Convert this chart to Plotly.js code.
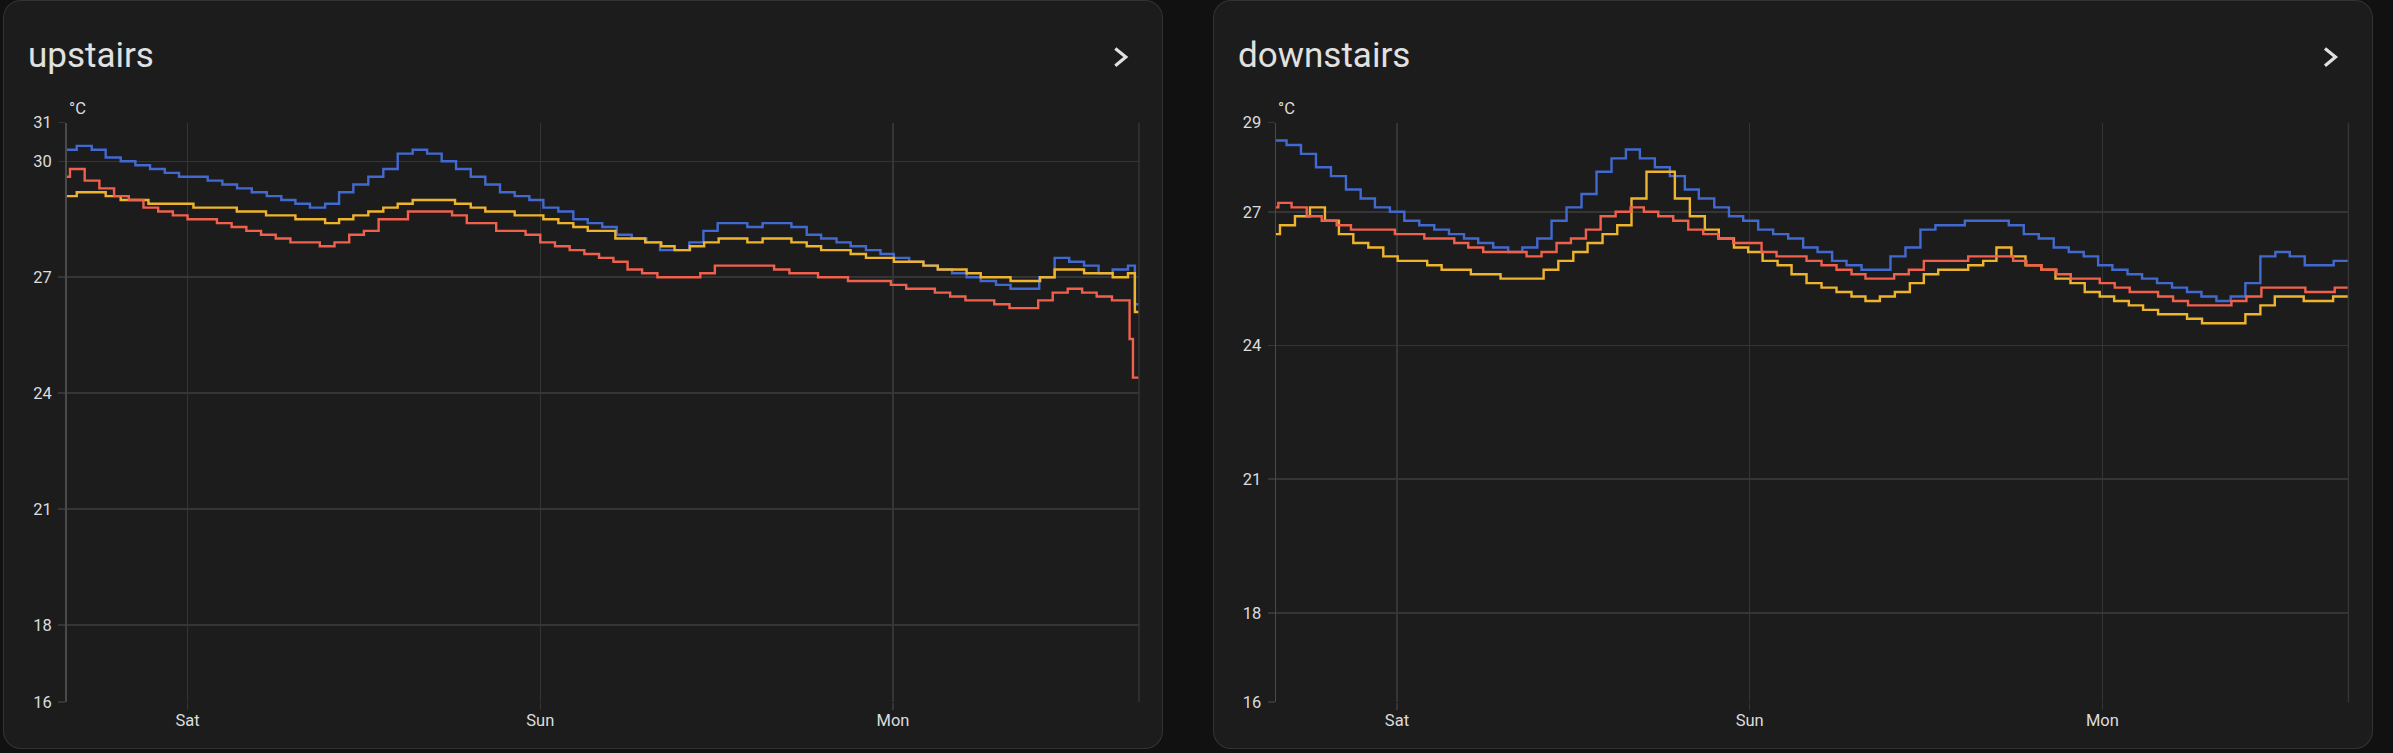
<!DOCTYPE html>
<html>
<head>
<meta charset="utf-8">
<script src="https://cdn.plot.ly/plotly-3.0.1.min.js"></script>
<style>
  html, body { margin: 0; padding: 0; background: #111111; width: 2393px; height: 753px; overflow: hidden; }
  .card { position: absolute; top: 0; width: 1160px; height: 749px; box-sizing: border-box;
          background: #1c1c1c; border: 1.5px solid rgba(225,225,225,0.12); border-radius: 18px; }
  #plot { position: absolute; left: 0; top: 0; width: 2393px; height: 753px; }
</style>
</head>
<body>
<div class="card" style="left:3px"></div>
<div class="card" style="left:1213px"></div>
<div id="plot"></div>
<script>
// ---------- data (hours relative to Saturday 00:00, value in °C) ----------
const titles = ['upstairs', 'downstairs'];
const unitLabel = '°C';
const dayTickHours = [0, 24, 48];
const dayTickText = ['Sat', 'Sun', 'Mon'];
const upTickVals = [16, 18, 21, 24, 27, 30, 31];
const dnTickVals = [16, 18, 21, 24, 27, 29];
const upRange = [16, 31];
const dnRange = [16, 29];
const timeRangeHours = [-8.23, 64.74];

const upBlue = [[-8.6,30.3],[-7.54,30.4],[-6.52,30.3],[-5.57,30.1],[-4.55,30.0],[-3.55,29.9],[-2.55,29.8],[-1.55,29.7],[-0.58,29.6],[1.37,29.5],[2.37,29.4],[3.37,29.3],[4.37,29.2],[5.39,29.1],[6.38,29.0],[7.34,28.9],[8.33,28.8],[9.36,28.9],[10.31,29.2],[11.28,29.4],[12.30,29.6],[13.32,29.8],[14.30,30.2],[15.32,30.3],[16.30,30.2],[17.29,30.0],[18.27,29.8],[19.27,29.6],[20.26,29.4],[21.26,29.2],[22.26,29.1],[23.26,29.0],[24.21,28.8],[25.23,28.7],[26.25,28.5],[27.23,28.4],[28.22,28.3],[29.20,28.1],[30.22,28.0],[31.22,27.9],[32.15,27.7],[34.14,27.9],[35.10,28.2],[36.07,28.4],[38.09,28.3],[39.13,28.4],[41.09,28.3],[42.13,28.1],[43.11,28.0],[44.16,27.9],[45.12,27.8],[46.16,27.7],[47.15,27.6],[48.06,27.5],[49.10,27.4],[50.07,27.3],[51.05,27.2],[52.02,27.1],[53.01,27.0],[53.97,26.9],[55.01,26.8],[56.00,26.7],[57.95,27.0],[59.00,27.5],[59.99,27.4],[61.00,27.3],[61.99,27.1],[62.95,27.2],[63.99,27.3],[64.46,26.3],[64.8,26.3]];
const upYellow = [[-8.6,29.1],[-7.54,29.2],[-5.57,29.1],[-4.55,29.0],[-2.66,28.9],[0.40,28.8],[3.35,28.7],[5.34,28.6],[7.34,28.5],[9.36,28.4],[10.31,28.5],[11.28,28.6],[12.30,28.7],[13.32,28.8],[14.30,28.9],[15.32,29.0],[18.20,28.9],[19.27,28.8],[20.26,28.7],[22.26,28.6],[24.21,28.5],[25.23,28.4],[26.25,28.3],[27.23,28.2],[29.11,28.0],[31.14,27.9],[32.23,27.8],[33.14,27.7],[34.18,27.8],[35.15,27.9],[36.14,28.0],[38.09,27.9],[39.13,28.0],[41.09,27.9],[42.13,27.8],[43.11,27.7],[45.12,27.6],[46.16,27.5],[48.06,27.4],[50.07,27.3],[51.05,27.2],[53.01,27.1],[53.97,27.0],[56.00,26.9],[58.01,27.0],[59.00,27.2],[61.00,27.1],[62.95,27.0],[63.99,27.1],[64.46,26.1],[64.8,26.1]];
const upRed = [[-9,29.6],[-8,29.8],[-7,29.5],[-6,29.3],[-5,29.1],[-4,29.0],[-3,28.8],[-2,28.7],[-1,28.6],[0,28.5],[2,28.4],[3,28.3],[4,28.2],[5,28.1],[6,28.0],[7,27.9],[9,27.8],[10,27.9],[11,28.1],[12,28.2],[13,28.5],[15,28.7],[18,28.6],[19,28.4],[21,28.2],[23,28.1],[24,27.9],[25,27.8],[26,27.7],[27,27.6],[28,27.5],[28.98,27.4],[29.94,27.2],[30.93,27.1],[31.97,27.0],[34.89,27.1],[35.88,27.3],[39.91,27.2],[40.95,27.1],[42.9,27.0],[44.94,26.9],[47.86,26.8],[48.9,26.7],[50.85,26.6],[51.89,26.5],[52.93,26.4],[54.89,26.3],[55.93,26.2],[57.88,26.4],[58.87,26.6],[59.89,26.7],[60.87,26.6],[61.86,26.5],[62.9,26.4],[64.1,25.4],[64.33,24.4],[64.8,24.4]];

const dnBlue = [[-8.6,28.6],[-7.51,28.5],[-6.53,28.3],[-5.51,28.0],[-4.49,27.8],[-3.47,27.5],[-2.47,27.3],[-1.50,27.1],[-0.48,27.0],[0.50,26.8],[1.52,26.7],[2.54,26.6],[3.54,26.5],[4.56,26.4],[5.53,26.3],[6.55,26.2],[7.57,26.1],[8.53,26.2],[9.55,26.4],[10.52,26.8],[11.54,27.1],[12.56,27.4],[13.58,27.9],[14.60,28.2],[15.58,28.4],[16.53,28.2],[17.55,28.0],[18.57,27.8],[19.59,27.5],[20.54,27.3],[21.59,27.1],[22.59,26.9],[23.56,26.8],[24.58,26.6],[25.60,26.5],[26.62,26.4],[27.64,26.2],[28.62,26.1],[29.61,25.9],[30.59,25.8],[31.61,25.7],[33.58,26.0],[34.60,26.2],[35.62,26.6],[36.64,26.7],[38.64,26.8],[41.63,26.7],[42.65,26.5],[43.67,26.4],[44.69,26.2],[45.71,26.1],[46.73,26.0],[47.71,25.8],[48.68,25.7],[49.71,25.6],[50.70,25.5],[51.72,25.4],[52.74,25.3],[53.76,25.2],[54.74,25.1],[55.76,25.0],[56.73,25.1],[57.73,25.4],[58.75,26.0],[59.77,26.1],[60.75,26.0],[61.77,25.8],[63.74,25.9],[64.8,25.9]];
const dnYellow = [[-8.6,26.5],[-7.96,26.7],[-6.94,26.9],[-5.92,27.1],[-4.90,26.8],[-3.95,26.5],[-2.97,26.3],[-1.95,26.2],[-0.93,26.0],[0.05,25.9],[2.06,25.8],[3.04,25.7],[5.03,25.6],[7.05,25.5],[9.98,25.7],[10.98,25.9],[12.0,26.1],[12.97,26.3],[13.99,26.5],[14.99,26.7],[15.96,27.3],[16.98,27.9],[18.91,27.3],[19.93,26.9],[20.95,26.6],[21.90,26.4],[22.93,26.2],[23.90,26.1],[24.88,25.9],[25.90,25.8],[26.85,25.6],[27.87,25.4],[28.89,25.3],[29.91,25.2],[30.93,25.1],[31.88,25.0],[32.86,25.1],[33.88,25.2],[34.90,25.4],[35.85,25.6],[36.83,25.7],[38.87,25.8],[39.89,25.9],[40.79,26.2],[41.81,26.0],[42.77,25.8],[43.85,25.7],[44.81,25.5],[45.83,25.4],[46.80,25.2],[47.82,25.1],[48.80,25.0],[49.80,24.9],[50.77,24.8],[51.79,24.7],[53.76,24.6],[54.78,24.5],[57.73,24.7],[58.75,24.9],[59.73,25.1],[61.70,25.0],[63.70,25.1],[64.8,25.1]];
const dnRed = [[-8.6,27.1],[-8.07,27.2],[-7.17,27.1],[-6.14,26.9],[-5.12,26.8],[-4.10,26.7],[-3.13,26.6],[-0.14,26.5],[1.86,26.4],[3.90,26.3],[4.85,26.2],[5.87,26.1],[8.82,26.0],[9.84,26.1],[10.86,26.3],[11.84,26.4],[12.86,26.6],[13.86,26.9],[14.88,27.0],[15.90,27.1],[16.80,27.0],[17.78,26.9],[18.80,26.8],[19.82,26.6],[20.84,26.5],[21.86,26.4],[22.88,26.3],[24.81,26.1],[25.83,26.0],[27.87,25.9],[28.89,25.8],[29.91,25.7],[30.93,25.6],[31.88,25.5],[33.83,25.6],[34.83,25.7],[35.85,25.9],[38.87,26.0],[41.93,25.9],[42.83,25.8],[43.85,25.7],[44.88,25.6],[45.85,25.5],[47.82,25.4],[48.84,25.3],[49.86,25.2],[51.79,25.1],[52.81,25.0],[53.83,24.9],[56.78,25.0],[57.80,25.1],[58.82,25.3],[61.81,25.2],[63.81,25.3],[64.8,25.3]];

// ---------- styling ----------
const BLUE = '#4269d0', YELLOW = '#efb42e', RED = '#f0604c';
const GRID = '#353535', AXIS = '#4a4a4a', TXT = '#dcdcdc', TITLE = '#e1e1e1';
const FONT = 'Roboto, "Noto Sans", sans-serif';
const W = 2393, H = 753;

const BASE = Date.UTC(2024, 5, 15); // a Saturday
function toDate(h) { return new Date(BASE + h * 3600000).toISOString().slice(0, 19).replace('T', ' '); }
function px(x) { return x / W; }
function py(y) { return 1 - y / H; }

function trace(series, color, xa, ya) {
  return { x: series.map(p => toDate(p[0])), y: series.map(p => p[1]), type: 'scatter', mode: 'lines',
           line: { color: color, width: 2.4, shape: 'hv' }, xaxis: xa, yaxis: ya, hoverinfo: 'skip' };
}

const data = [
  trace(upBlue, BLUE, 'x', 'y'), trace(upYellow, YELLOW, 'x', 'y'), trace(upRed, RED, 'x', 'y'),
  trace(dnBlue, BLUE, 'x2', 'y2'), trace(dnYellow, YELLOW, 'x2', 'y2'), trace(dnRed, RED, 'x2', 'y2')
];

const yDom = [py(702), py(122.7)];
function xAxis(dom, anchor) {
  return { domain: dom, anchor: anchor, type: 'date',
    range: [toDate(timeRangeHours[0]), toDate(timeRangeHours[1])],
    tickmode: 'array', tickvals: dayTickHours.map(toDate), ticktext: dayTickText,
    showgrid: true, gridcolor: GRID, gridwidth: 1.5, zeroline: false, showline: false,
    ticks: 'outside', ticklen: 7, tickwidth: 1.5, tickcolor: GRID, ticklabelstandoff: -4,
    tickfont: { family: FONT, size: 16.5, color: TXT }, fixedrange: true };
}
function yAxis(range, vals, anchor) {
  return { domain: yDom, anchor: anchor, range: range, tickmode: 'array', tickvals: vals,
    showgrid: true, gridcolor: GRID, gridwidth: 1.5, zeroline: false,
    showline: true, linecolor: AXIS, linewidth: 1.5,
    ticks: 'outside', ticklen: 7, tickwidth: 1.5, tickcolor: GRID, ticklabelstandoff: 3,
    tickfont: { family: FONT, size: 16.5, color: TXT }, fixedrange: true };
}

function chevron(xl) {
  return { type: 'path', xref: 'paper', yref: 'paper',
    path: 'M ' + px(xl) + ' ' + py(48.5) + ' L ' + px(xl + 10.5) + ' ' + py(57.1) + ' L ' + px(xl) + ' ' + py(65.7),
    line: { color: TITLE, width: 3.2 } };
}
function border(xa, ya) {
  return { type: 'line', xref: xa + ' domain', yref: ya + ' domain', x0: 1, x1: 1, y0: 0, y1: 1,
           line: { color: GRID, width: 1.5 } };
}

const layout = {
  width: W, height: H, margin: { l: 0, r: 0, t: 0, b: 0 },
  paper_bgcolor: 'rgba(0,0,0,0)', plot_bgcolor: 'rgba(0,0,0,0)', showlegend: false,
  font: { family: FONT, color: TXT },
  xaxis: xAxis([px(66.6), px(1139)], 'y'), yaxis: yAxis(upRange, upTickVals, 'x'),
  xaxis2: xAxis([px(1276), px(2348.4)], 'y2'), yaxis2: yAxis(dnRange, dnTickVals, 'x2'),
  shapes: [border('x', 'y'), border('x2', 'y2'), chevron(1115.3), chevron(2325)],
  annotations: [
    { text: titles[0], xref: 'paper', yref: 'paper', x: px(26), y: py(55), xanchor: 'left', yanchor: 'middle',
      showarrow: false, font: { family: FONT, size: 35, color: TITLE } },
    { text: titles[1], xref: 'paper', yref: 'paper', x: px(1236), y: py(55), xanchor: 'left', yanchor: 'middle',
      showarrow: false, font: { family: FONT, size: 35, color: TITLE } },
    { text: unitLabel, xref: 'x domain', yref: 'paper', x: 0, y: py(108.5), xanchor: 'left', yanchor: 'middle',
      showarrow: false, font: { family: FONT, size: 16.5, color: TXT } },
    { text: unitLabel, xref: 'x2 domain', yref: 'paper', x: 0, y: py(108.5), xanchor: 'left', yanchor: 'middle',
      showarrow: false, font: { family: FONT, size: 16.5, color: TXT } }
  ]
};

Plotly.newPlot('plot', data, layout, { staticPlot: true, displayModeBar: false });
</script>
</body>
</html>
